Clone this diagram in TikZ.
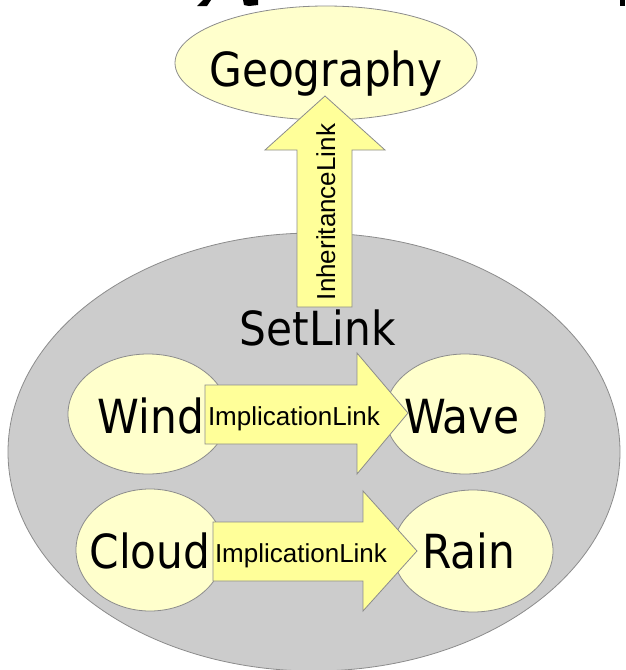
\documentclass[tikz,border=0pt]{standalone}
\usepackage{fontspec}
\newfontfamily\labelfont{DejaVu Sans Condensed}
\newfontfamily\linkfont{Liberation Sans}
\definecolor{setgray}{HTML}{CCCCCC}
\definecolor{atomfill}{HTML}{FFFFCC}
\definecolor{arrowfill}{HTML}{FFFF99}
\definecolor{edgegray}{HTML}{8C8C8C}
\tikzset{
  atom/.style={draw=edgegray, line width=0.8pt, fill=atomfill},
  bigarrow/.style={draw=edgegray, line width=0.8pt, fill=arrowfill, line join=miter},
  biglabel/.style={font=\labelfont\fontsize{47}{47}\selectfont, anchor=base, inner sep=0pt},
  linklabel/.style={font=\linkfont\fontsize{26}{26}\selectfont, anchor=base, inner sep=0pt}
}
\begin{document}
\begin{tikzpicture}[x=1pt,y=-1pt]
\useasboundingbox (0,0) rectangle (625,670);
\clip (0,0) rectangle (625,670);

% clipped glyph ends of a heading above the frame
\fill[black] (203,0) -- (211,0) -- (207,6) -- (197,6) -- cycle;
\fill[black] (243,0) -- (258,0) -- (258,5) -- (249,6) -- (244,5) -- cycle;
\fill[black] (620,0) -- (625,0) -- (625,6) -- (620,6) -- cycle;

% the set
\draw[draw=edgegray, line width=0.8pt, fill=setgray] (314,452) ellipse [x radius=306, y radius=219];
\node[biglabel] (set) at (318,345) {SetLink};

% parent concept
\draw[atom] (326,63) ellipse [x radius=151, y radius=57];
\coordinate (geo) at (326,63);
\node[biglabel] (geography) at (326,86) {Geography};

% members of the set
\draw[atom] (148,414) ellipse [x radius=80, y radius=60];
\draw[atom] (465,414) ellipse [x radius=80, y radius=60];
\draw[atom] (150,550) ellipse [x radius=74, y radius=61];
\draw[atom] (473,551) ellipse [x radius=80, y radius=61];
\node[biglabel] (wind) at (151,433) {Wind};
\node[biglabel] (wave) at (462,433) {Wave};
\node[biglabel] (cloud) at (150,568) {Cloud};
\node[biglabel] (rain) at (469,568) {Rain};

% inheritance arrow from the set up to Geography
\draw[bigarrow] (297,307) -- (297,150) -- (265,150) -- (325,96) -- (385,150) -- (352,150) -- (352,307) -- cycle;
\node[linklabel, rotate=90] (inh) at (335,212) {InheritanceLink};

% implication arrows
\draw[bigarrow] (205,385) -- (357,385) -- (357,353) -- (408,413) -- (357,474) -- (357,444) -- (205,444) -- cycle;
\node[linklabel] (imp1) at (294,425) {ImplicationLink};
\draw[bigarrow] (213,522) -- (363,522) -- (363,491) -- (417,551) -- (363,611) -- (363,581) -- (213,581) -- cycle;
\node[linklabel] (imp2) at (301,562) {ImplicationLink};
\end{tikzpicture}
\end{document}
